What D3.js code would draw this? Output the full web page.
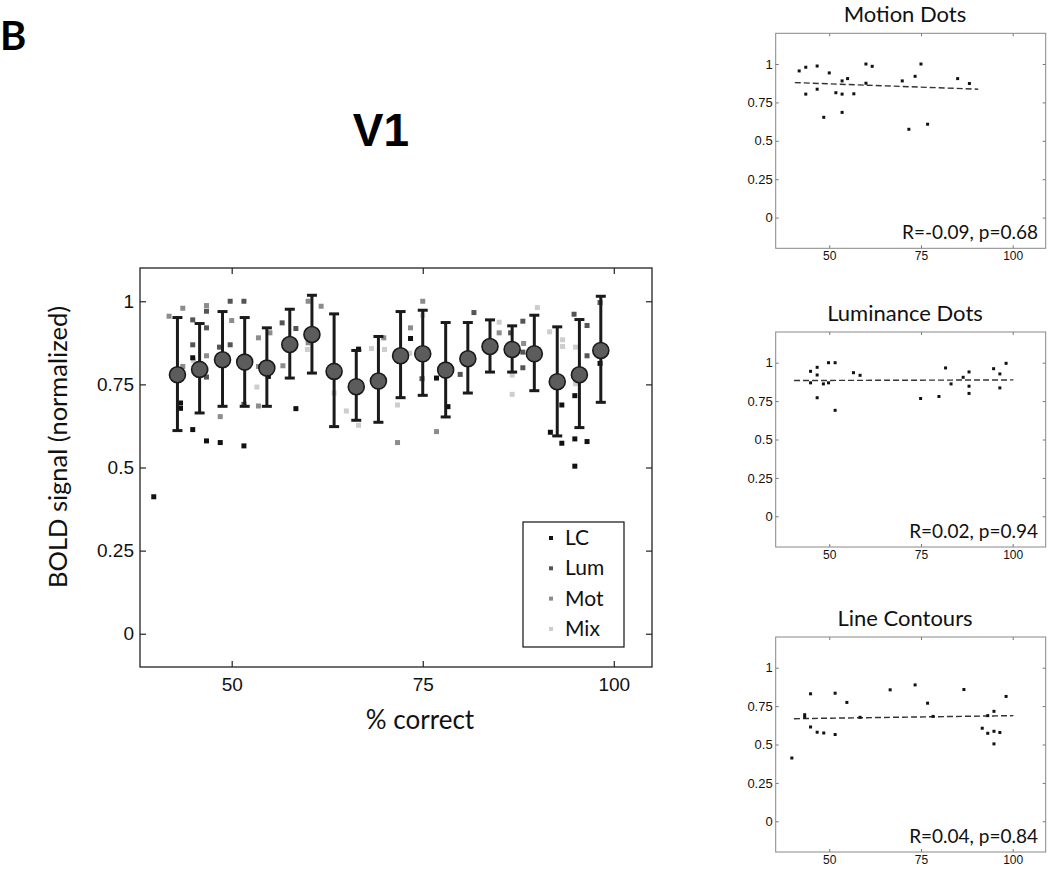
<!DOCTYPE html>
<html>
<head>
<meta charset="utf-8">
<title>V1 - BOLD vs % correct</title>
<script src="https://cdn.jsdelivr.net/npm/d3@7"></script>
<style>
  body { margin: 0; background: #fff; }
  svg text { font-family: "Liberation Sans", Arial, sans-serif; }
  svg text.gill { font-family: Lato, "Open Sans", sans-serif; }
</style>
</head>
<body>
<div id="fig"></div>
<script>
// binned group means (% correct bins) with error bars
var binX    = [42.9, 45.8, 48.8, 51.7, 54.6, 57.6, 60.5, 63.4, 66.3, 69.2, 72.1, 75.0, 78.0, 80.9, 83.8, 86.7, 89.6, 92.6, 95.5, 98.3];
var binMean = [0.779, 0.795, 0.824, 0.817, 0.799, 0.870, 0.900, 0.789, 0.743, 0.760, 0.836, 0.842, 0.793, 0.827, 0.864, 0.855, 0.842, 0.758, 0.779, 0.852];
var binHi   = [0.951, 0.933, 0.969, 0.951, 0.920, 0.976, 1.018, 0.962, 0.852, 0.894, 0.969, 0.973, 0.936, 0.936, 0.944, 0.926, 0.958, 0.923, 0.945, 1.015];
var binLo   = [0.611, 0.664, 0.684, 0.684, 0.684, 0.769, 0.784, 0.623, 0.642, 0.636, 0.710, 0.717, 0.652, 0.724, 0.787, 0.787, 0.731, 0.595, 0.620, 0.696];

// single runs per condition
var lcPct  = [39.8, 43.3, 43.3, 44.9, 44.9, 46.7, 48.5, 51.6, 51.6, 54.8, 58.4, 66.6, 73.4, 76.8, 78.3, 86.7, 91.7, 93.2, 93.2, 94.9, 94.9, 94.9, 96.5, 98.2];
var lcBold = [0.412, 0.694, 0.678, 0.830, 0.614, 0.580, 0.575, 0.834, 0.565, 0.774, 0.677, 0.856, 0.888, 0.769, 0.683, 0.858, 0.606, 0.688, 0.573, 0.716, 0.586, 0.504, 0.578, 0.813];

var lumPct  = [44.9, 44.9, 46.7, 46.7, 46.7, 48.4, 49.8, 49.8, 51.6, 51.6, 56.6, 58.4, 74.9, 79.9, 81.7, 83.2, 86.5, 88.1, 88.1, 88.1, 94.8, 96.5, 96.5, 98.2];
var lumBold = [0.944, 0.869, 0.970, 0.920, 0.772, 0.862, 1.0, 0.869, 1.0, 0.690, 0.935, 0.918, 0.767, 0.780, 0.966, 0.862, 0.905, 0.940, 0.847, 0.800, 0.961, 0.927, 0.836, 0.996];

var motPct  = [41.8, 43.6, 43.6, 46.7, 46.7, 48.5, 50.0, 51.8, 53.5, 53.5, 53.5, 55.0, 56.7, 60.0, 60.0, 61.7, 69.9, 71.7, 73.4, 75.0, 76.8, 85.0, 88.2];
var motBold = [0.955, 0.979, 0.804, 0.987, 0.836, 0.653, 0.942, 0.813, 0.890, 0.804, 0.685, 0.905, 0.806, 1.0, 0.875, 0.985, 0.890, 0.575, 0.920, 1.0, 0.608, 0.905, 0.873];

var mixPct  = [45.0, 46.7, 53.3, 59.9, 63.4, 65.0, 66.6, 68.3, 70.0, 71.7, 73.3, 75.0, 85.0, 86.7, 86.7, 90.0, 91.6, 93.3, 93.3, 95.0, 95.0];
var mixBold = [0.822, 0.795, 0.742, 0.855, 0.724, 0.670, 0.627, 0.858, 0.855, 0.688, 0.844, 0.958, 0.937, 0.778, 0.720, 0.981, 0.908, 0.884, 0.864, 0.862, 0.752];

// regression lines of the small panels (end points)
var fitMot = [[40.6, 0.879], [90.6, 0.836]];
var fitLum = [[40.4, 0.884], [100.2, 0.888]];
var fitLC  = [[40.4, 0.668], [100.2, 0.688]];

var legendNames = ["LC", "Lum", "Mot", "Mix"];
var panelTitles = ["Motion Dots", "Luminance Dots", "Line Contours"];
var panelStats  = ["R=-0.09, p=0.68", "R=0.02, p=0.94", "R=0.04, p=0.84"];
var xTicks = [50, 75, 100];
var yTicks = [0, 0.25, 0.5, 0.75, 1];

var colors = { LC: "#111", Lum: "#555", Mot: "#8c8c8c", Mix: "#cdcdcd" };

var svg = d3.select("#fig").append("svg")
  .attr("width", 1050).attr("height", 870);

var zip = (xs, ys) => xs.map((v, i) => [v, ys[i]]);

// ---------- main plot ----------
var M = { left: 140, right: 652, top: 268, bottom: 667 };
var x = d3.scaleLinear().domain([38, 105]).range([M.left, M.right]);
var y = d3.scaleLinear().domain([-0.1, 1.1]).range([M.bottom, M.top]);

var main = svg.append("g");

function noDomain(g) { g.select(".domain").remove(); }

main.append("g").attr("transform", "translate(0," + M.bottom + ")")
  .call(d3.axisBottom(x).tickValues(xTicks).tickSize(-6).tickPadding(11))
  .call(noDomain);
main.append("g").attr("transform", "translate(0," + M.top + ")")
  .call(d3.axisTop(x).tickValues(xTicks).tickSize(-6).tickFormat(""))
  .call(noDomain);
main.append("g").attr("transform", "translate(" + M.left + ",0)")
  .call(d3.axisLeft(y).tickValues(yTicks).tickSize(-6).tickPadding(6).tickFormat(d3.format("")))
  .call(noDomain);
main.append("g").attr("transform", "translate(" + M.right + ",0)")
  .call(d3.axisRight(y).tickValues(yTicks).tickSize(-6).tickFormat(""))
  .call(noDomain);

main.selectAll(".tick line").attr("stroke", "#222").attr("stroke-width", 1.2);
main.selectAll(".tick text").attr("font-size", 19).attr("fill", "#111")
  .attr("font-family", "Liberation Sans, Arial, sans-serif");

main.append("rect")
  .attr("x", M.left).attr("y", M.top)
  .attr("width", M.right - M.left).attr("height", M.bottom - M.top)
  .attr("fill", "none").attr("stroke", "#222").attr("stroke-width", 1.3);

var series = [
  { name: "Mix", pts: zip(mixPct, mixBold) },
  { name: "Mot", pts: zip(motPct, motBold) },
  { name: "Lum", pts: zip(lumPct, lumBold) },
  { name: "LC",  pts: zip(lcPct, lcBold) }
];
var sq = 5;
series.forEach(function(s) {
  main.append("g").selectAll("rect").data(s.pts).enter().append("rect")
    .attr("x", d => x(d[0]) - sq / 2)
    .attr("y", d => y(d[1]) - sq / 2)
    .attr("width", sq).attr("height", sq)
    .attr("fill", colors[s.name]);
});

var bins = binX.map((v, i) => ({ x: v, m: binMean[i], lo: binLo[i], hi: binHi[i] }));
var eb = main.append("g").attr("stroke", "#1a1a1a").attr("stroke-width", 3);
eb.selectAll("line.v").data(bins).enter().append("line")
  .attr("x1", d => x(d.x)).attr("x2", d => x(d.x))
  .attr("y1", d => y(d.lo)).attr("y2", d => y(d.hi));
eb.selectAll("line.t").data(bins).enter().append("line")
  .attr("x1", d => x(d.x) - 5).attr("x2", d => x(d.x) + 5)
  .attr("y1", d => y(d.hi)).attr("y2", d => y(d.hi));
eb.selectAll("line.b").data(bins).enter().append("line")
  .attr("x1", d => x(d.x) - 5).attr("x2", d => x(d.x) + 5)
  .attr("y1", d => y(d.lo)).attr("y2", d => y(d.lo));

main.append("g").selectAll("circle").data(bins).enter().append("circle")
  .attr("cx", d => x(d.x)).attr("cy", d => y(d.m)).attr("r", 8)
  .attr("fill", "#5c5c5c").attr("stroke", "#1a1a1a").attr("stroke-width", 1.6);

// legend
var lg = main.append("g");
lg.append("rect").attr("x", 523).attr("y", 522).attr("width", 101).attr("height", 125)
  .attr("fill", "#fff").attr("stroke", "#111").attr("stroke-width", 1.2);
legendNames.forEach(function(n, i) {
  var cy = 538 + i * 30.3;
  lg.append("rect").attr("x", 549).attr("y", cy - 2).attr("width", 4).attr("height", 4)
    .attr("fill", colors[n]);
  lg.append("text").attr("class", "gill").attr("x", 565).attr("y", cy + 7)
    .attr("font-size", 21).attr("fill", "#111").text(n);
});

main.append("text").attr("class", "gill")
  .attr("x", 420).attr("y", 729)
  .attr("text-anchor", "middle").attr("font-size", 26).attr("fill", "#111")
  .text("% correct");
main.append("text").attr("class", "gill")
  .attr("transform", "translate(67,447) rotate(-90)")
  .attr("text-anchor", "middle").attr("font-size", 25.5).attr("fill", "#111")
  .text("BOLD signal (normalized)");

svg.append("text").attr("x", 381).attr("y", 146).attr("text-anchor", "middle")
  .attr("font-size", 46).attr("font-weight", "bold").attr("fill", "#000").text("V1");
svg.append("text").attr("class", "gill").attr("x", 0).attr("y", 50)
  .attr("font-size", 40).attr("font-weight", "bold").attr("fill", "#000").text("B");

// ---------- small panels ----------
var P = { left: 775.7, right: 1045.7, h: 215 };
var panelTops = [33.3, 332, 637];
var panelData = [zip(motPct, motBold), zip(lumPct, lumBold), zip(lcPct, lcBold)];
var panelFits = [fitMot, fitLum, fitLC];
var px = d3.scaleLinear().domain([35.4, 109]).range([P.left, P.right]);

panelTops.forEach(function(top, k) {
  var py = d3.scaleLinear().domain([-0.2, 1.2]).range([top + P.h, top]);
  var g = svg.append("g");

  g.append("g").attr("class", "xax").attr("transform", "translate(0," + (top + P.h) + ")")
    .call(d3.axisBottom(px).tickValues(xTicks).tickSize(-3).tickPadding(3))
    .call(noDomain);
  g.append("g").attr("transform", "translate(0," + top + ")")
    .call(d3.axisTop(px).tickValues(xTicks).tickSize(-3).tickFormat(""))
    .call(noDomain);
  g.append("g").attr("transform", "translate(" + P.left + ",0)")
    .call(d3.axisLeft(py).tickValues(yTicks).tickSize(-3).tickPadding(3).tickFormat(d3.format("")))
    .call(noDomain);
  g.append("g").attr("transform", "translate(" + P.right + ",0)")
    .call(d3.axisRight(py).tickValues(yTicks).tickSize(-3).tickFormat(""))
    .call(noDomain);
  g.selectAll(".tick line").attr("stroke", "#777");
  g.selectAll(".tick text").attr("font-size", 13).attr("fill", "#111")
    .attr("font-family", "Liberation Sans, Arial, sans-serif");
  g.selectAll(".xax .tick text").attr("font-size", 12);

  g.append("rect").attr("x", P.left).attr("y", top)
    .attr("width", P.right - P.left).attr("height", P.h)
    .attr("fill", "none").attr("stroke", "#888").attr("stroke-width", 1);

  g.append("path").datum(panelFits[k])
    .attr("d", d3.line().x(d => px(d[0])).y(d => py(d[1])))
    .attr("fill", "none").attr("stroke", "#333").attr("stroke-width", 1.4)
    .attr("stroke-dasharray", "6,3");

  g.selectAll("rect.pt").data(panelData[k]).enter().append("rect")
    .attr("class", "pt")
    .attr("x", d => px(d[0]) - 1.5).attr("y", d => py(d[1]) - 1.5)
    .attr("width", 3).attr("height", 3).attr("fill", "#111");

  g.append("text").attr("class", "gill")
    .attr("x", 905).attr("y", top - 11)
    .attr("text-anchor", "middle").attr("font-size", 22).attr("fill", "#111")
    .text(panelTitles[k]);
  g.append("text").attr("class", "gill")
    .attr("x", 1038).attr("y", top + P.h - 9)
    .attr("text-anchor", "end").attr("font-size", 19).attr("fill", "#111")
    .text(panelStats[k]);
});
</script>
</body>
</html>
